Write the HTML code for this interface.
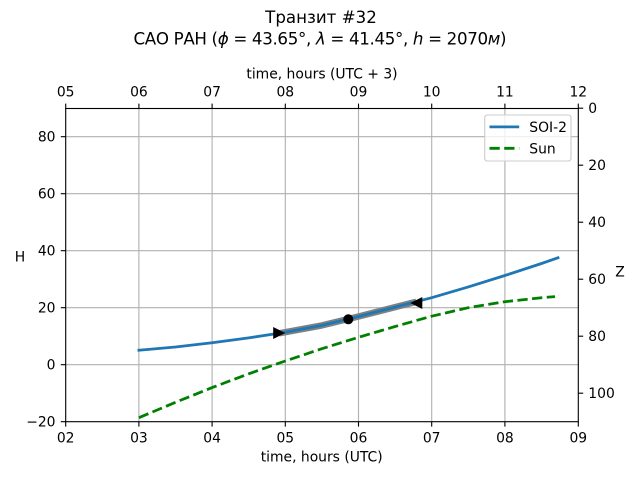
<!DOCTYPE html>
<html>
<head>
<meta charset="utf-8">
<style>
  html, body { margin: 0; padding: 0; background: #ffffff; }
  svg { display: block; }
  text { font-family: "DejaVu Sans", "Liberation Sans", sans-serif; fill: #000; }
</style>
</head>
<body>
<svg width="640" height="480" viewBox="0 0 640 480" xmlns="http://www.w3.org/2000/svg">
  <rect x="0" y="0" width="640" height="480" fill="#ffffff"/>

  <!-- Titles -->
  <text x="321" y="22.8" font-size="16.67" text-anchor="middle">Транзит #32</text>
  <text x="320" y="44.3" font-size="16.67" text-anchor="middle" textLength="373" lengthAdjust="spacing">САО РАН (<tspan font-style="italic">ϕ</tspan> = 43.65°, <tspan font-style="italic">λ</tspan> = 41.45°, <tspan font-style="italic">h</tspan> = 2070<tspan font-style="italic">м</tspan>)</text>

  <!-- Grid -->
  <g stroke="#b0b0b0" stroke-width="1.11" fill="none">
    <line x1="138.9" y1="108.5" x2="138.9" y2="421.7"/>
    <line x1="212.1" y1="108.5" x2="212.1" y2="421.7"/>
    <line x1="285.3" y1="108.5" x2="285.3" y2="421.7"/>
    <line x1="358.5" y1="108.5" x2="358.5" y2="421.7"/>
    <line x1="431.7" y1="108.5" x2="431.7" y2="421.7"/>
    <line x1="504.9" y1="108.5" x2="504.9" y2="421.7"/>
    <line x1="65.7" y1="364.7" x2="578.3" y2="364.7"/>
    <line x1="65.7" y1="307.7" x2="578.3" y2="307.7"/>
    <line x1="65.7" y1="250.7" x2="578.3" y2="250.7"/>
    <line x1="65.7" y1="193.7" x2="578.3" y2="193.7"/>
    <line x1="65.7" y1="136.7" x2="578.3" y2="136.7"/>
  </g>

  <!-- Sun dashed -->
  <polyline fill="none" stroke="#008000" stroke-width="2.78" stroke-dasharray="10.28 4.44" stroke-linecap="butt" stroke-linejoin="round"
    points="138.9,417.7 175.5,402.3 212.1,387.6 248.7,373.8 285.3,361.0 321.9,348.7 358.5,337.3 395.1,326.5 431.7,316.2 468.3,307.7 504.9,301.7 541.5,297.7 555,296.6"/>

  <!-- Gray highlighted segment -->
  <polyline fill="none" stroke="#808080" stroke-width="6.5" stroke-linecap="butt" stroke-linejoin="round"
    points="279,333.3 285.3,332.2 321.9,325.4 358.5,316.5 395.1,307.1 416.3,301.8"/>

  <!-- SOI-2 -->
  <polyline fill="none" stroke="#1f77b4" stroke-width="2.78" stroke-linecap="square" stroke-linejoin="round"
    points="138.9,350.2 175.5,347.0 212.1,342.8 248.7,337.9 285.3,332.2 321.9,325.4 358.5,316.5 395.1,307.1 431.7,297.7 468.3,286.9 504.9,275.5 541.5,263.5 558.0,257.8"/>

  <!-- Markers -->
  <polygon points="285.2,333 273.2,327 273.2,339" fill="#000"/>
  <polygon points="410.3,303 422.3,297 422.3,309" fill="#000"/>
  <circle cx="348.3" cy="319.3" r="5" fill="#000"/>

  <!-- Spines -->
  <rect x="65.7" y="108.5" width="512.6" height="313.2" fill="none" stroke="#000" stroke-width="1.11"/>

  <!-- Ticks -->
  <g stroke="#000" stroke-width="1.11">
    <!-- bottom -->
    <line x1="65.7" y1="421.7" x2="65.7" y2="426.6"/>
    <line x1="138.9" y1="421.7" x2="138.9" y2="426.6"/>
    <line x1="212.1" y1="421.7" x2="212.1" y2="426.6"/>
    <line x1="285.3" y1="421.7" x2="285.3" y2="426.6"/>
    <line x1="358.5" y1="421.7" x2="358.5" y2="426.6"/>
    <line x1="431.7" y1="421.7" x2="431.7" y2="426.6"/>
    <line x1="504.9" y1="421.7" x2="504.9" y2="426.6"/>
    <line x1="578.3" y1="421.7" x2="578.3" y2="426.6"/>
    <!-- top -->
    <line x1="65.7" y1="108.5" x2="65.7" y2="103.6"/>
    <line x1="138.9" y1="108.5" x2="138.9" y2="103.6"/>
    <line x1="212.1" y1="108.5" x2="212.1" y2="103.6"/>
    <line x1="285.3" y1="108.5" x2="285.3" y2="103.6"/>
    <line x1="358.5" y1="108.5" x2="358.5" y2="103.6"/>
    <line x1="431.7" y1="108.5" x2="431.7" y2="103.6"/>
    <line x1="504.9" y1="108.5" x2="504.9" y2="103.6"/>
    <line x1="578.3" y1="108.5" x2="578.3" y2="103.6"/>
    <!-- left -->
    <line x1="65.7" y1="421.7" x2="60.8" y2="421.7"/>
    <line x1="65.7" y1="364.7" x2="60.8" y2="364.7"/>
    <line x1="65.7" y1="307.7" x2="60.8" y2="307.7"/>
    <line x1="65.7" y1="250.7" x2="60.8" y2="250.7"/>
    <line x1="65.7" y1="193.7" x2="60.8" y2="193.7"/>
    <line x1="65.7" y1="136.7" x2="60.8" y2="136.7"/>
    <!-- right -->
    <line x1="578.3" y1="108.2" x2="583.2" y2="108.2"/>
    <line x1="578.3" y1="165.2" x2="583.2" y2="165.2"/>
    <line x1="578.3" y1="222.2" x2="583.2" y2="222.2"/>
    <line x1="578.3" y1="279.2" x2="583.2" y2="279.2"/>
    <line x1="578.3" y1="336.2" x2="583.2" y2="336.2"/>
    <line x1="578.3" y1="393.2" x2="583.2" y2="393.2"/>
  </g>

  <!-- Bottom tick labels -->
  <g font-size="13.89" text-anchor="middle">
    <text x="65.7" y="442.7">02</text>
    <text x="138.9" y="442.7">03</text>
    <text x="212.1" y="442.7">04</text>
    <text x="285.3" y="442.7">05</text>
    <text x="358.5" y="442.7">06</text>
    <text x="431.7" y="442.7">07</text>
    <text x="504.9" y="442.7">08</text>
    <text x="578.3" y="442.7">09</text>
  </g>
  <text x="321.7" y="461.3" font-size="13.89" text-anchor="middle">time, hours (UTC)</text>

  <!-- Top tick labels -->
  <g font-size="13.89" text-anchor="middle">
    <text x="65.7" y="96.7">05</text>
    <text x="138.9" y="96.7">06</text>
    <text x="212.1" y="96.7">07</text>
    <text x="285.3" y="96.7">08</text>
    <text x="358.5" y="96.7">09</text>
    <text x="431.7" y="96.7">10</text>
    <text x="504.9" y="96.7">11</text>
    <text x="578.3" y="96.7">12</text>
  </g>
  <text x="322" y="78.6" font-size="13.89" text-anchor="middle">time, hours (UTC + 3)</text>

  <!-- Left tick labels -->
  <g font-size="13.89" text-anchor="end">
    <text x="55.5" y="426.7">−20</text>
    <text x="55.5" y="369.7">0</text>
    <text x="55.5" y="312.7">20</text>
    <text x="55.5" y="255.7">40</text>
    <text x="55.5" y="198.7">60</text>
    <text x="55.5" y="141.7">80</text>
  </g>
  <text x="20" y="261.7" font-size="13.89" text-anchor="middle">H</text>

  <!-- Right tick labels -->
  <g font-size="13.89" text-anchor="start">
    <text x="588.3" y="113.2">0</text>
    <text x="588.3" y="170.2">20</text>
    <text x="588.3" y="227.2">40</text>
    <text x="588.3" y="284.2">60</text>
    <text x="588.3" y="341.2">80</text>
    <text x="588.3" y="398.2">100</text>
  </g>
  <text x="620" y="276.7" font-size="13.89" text-anchor="middle">Z</text>

  <!-- Legend -->
  <rect x="484.7" y="115" width="86.3" height="46" rx="2.8" ry="2.8" fill="#ffffff" fill-opacity="0.8" stroke="#cccccc" stroke-width="1.11"/>
  <line x1="489.5" y1="126.9" x2="519.2" y2="126.9" stroke="#1f77b4" stroke-width="2.78"/>
  <text x="529.3" y="132" font-size="13.89">SOI-2</text>
  <line x1="489.5" y1="148.3" x2="519.2" y2="148.3" stroke="#008000" stroke-width="2.78" stroke-dasharray="10.28 4.44"/>
  <text x="529.3" y="153.3" font-size="13.89">Sun</text>
</svg>
</body>
</html>
